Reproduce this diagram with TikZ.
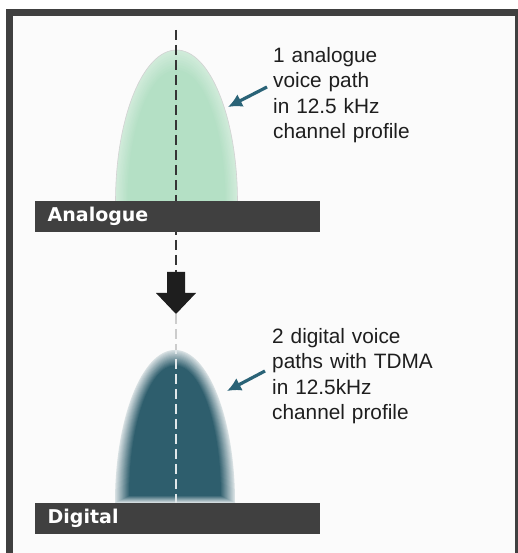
\documentclass[tikz,border=0pt]{standalone}
\usepackage{fontspec}
\setmainfont{Liberation Sans}
\newfontfamily\barfont{DejaVu Sans}
\usetikzlibrary{arrows.meta}
\usetikzlibrary{positioning}
\definecolor{framegray}{HTML}{404040}
\definecolor{tealdark}{HTML}{2E5E6D}
\definecolor{tealedge}{HTML}{E2E8EA}
\definecolor{tealarrow}{HTML}{2A6377}
\definecolor{greenin}{HTML}{B4E0C5}
\definecolor{greenout}{HTML}{D0EBDA}
\definecolor{inkblack}{HTML}{1E1E1E}
\tikzset{bar/.style = {fill = framegray, anchor = south west, text = white,
                       minimum height = 31pt, text width = 260pt,
                       inner xsep = 12.5pt, inner ysep = 0pt,
                       font = \barfont\bfseries\fontsize{19}{20}\selectfont}}
\tikzset{caption/.style = {anchor = north west, inner sep = 0, text = inkblack,
                           text width = 200pt, align = left,
                           font = \fontsize{20.8}{25.4}\selectfont}}
\tikzset{pointer/.style = {draw = tealarrow, line width = 3.2pt,
                           -{Latex[length = 14pt, width = 14pt]}}}
\tikzset{axis/.style = {line width = 2pt, dash pattern = on 10pt off 5pt}}
\newcommand{\bellpath}[4]{(#1 - #3, #2) arc [start angle = 180, end angle = 0,
                                              x radius = #3, y radius = #4] -- cycle}

\begin{document}
\begin{tikzpicture}[x = 1pt, y = 1pt]
  \fill [white] (0, 0) rectangle (518, 553);
  \fill [gray!3] (6, 0) rectangle (518, 543.5);
  \fill [framegray] (6, 0) rectangle (13, 543.5);
  \fill [framegray] (6, 537) rectangle (518, 543.5);
  \fill [framegray] (514.5, 0) rectangle (518, 543.5);

  \path [fill = greenout, draw = gray!35, line width = .6pt] \bellpath{176.5}{351}{61}{152};
  \foreach \i in {1, ..., 8} {
    \pgfmathsetmacro\w{61 - 1.5 * \i}
    \pgfmathsetmacro\h{152 - 2.5 * \i}
    \pgfmathtruncatemacro\pct{12.5 * \i}
    \fill [greenin!\pct!greenout] \bellpath{176.5}{351}{\w}{\h};
  }
  \draw [axis, inkblack!90] (176, 523) -- (176, 281);
  \node [bar] (anabar) at (35, 321) {Analogue};

  \foreach \i in {0, ..., 14} {
    \pgfmathsetmacro\w{60 - \i}
    \pgfmathsetmacro\h{153 - 1.6 * \i}
    \pgfmathtruncatemacro\pct{100 * (\i + 1) / 15}
    \fill [tealdark!\pct!tealedge] \bellpath{175}{50 + 0.5 * \i}{\w}{\h};
  }
  \draw [axis, gray!40] (176, 239) -- (176, 203);
  \begin{scope}
    \clip \bellpath{175}{50}{60}{153};
    \draw [axis, line width = 1.6pt, white!85!tealdark] (176, 239) -- (176, 50);
  \end{scope}
  \node [bar] (digbar) at (35, 19) {Digital};

  \fill [inkblack] (167, 281) -- (185, 281) -- (185, 260) -- (196, 260) -- (176, 239)
                   -- (156, 260) -- (167, 260) -- cycle;

  \node [caption] (anatxt) at (273, 506) {1 analogue\\voice path\\in 12.5 kHz\\channel profile};
  \node [caption] (digtxt) at (272, 225) {2 digital voice\\paths with TDMA\\in 12.5kHz\\channel profile};

  \coordinate (anafrom) at (267, 466);
  \coordinate (anato) at (228, 446);
  \coordinate (digfrom) at (265, 182);
  \coordinate (digto) at (227, 162);
  \draw [pointer] (anafrom) -- (anato);
  \draw [pointer] (digfrom) -- (digto);
\end{tikzpicture}
\end{document}
